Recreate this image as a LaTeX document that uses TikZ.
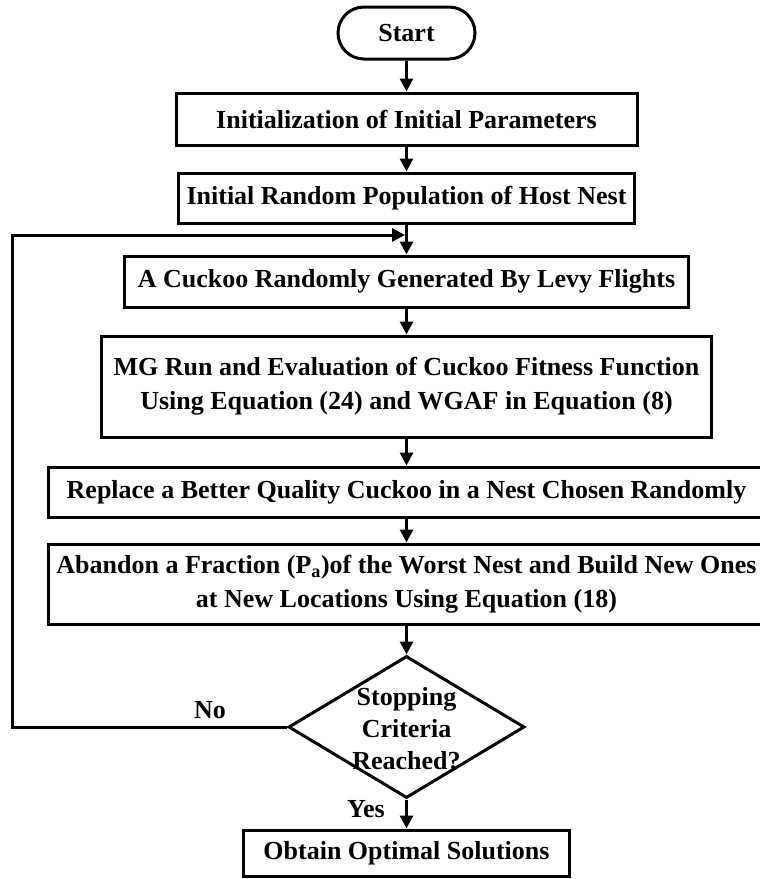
\documentclass[tikz,border=0pt]{standalone}
\usepackage{fontspec}
\setmainfont{Liberation Serif}
\usetikzlibrary{shapes.geometric,arrows.meta}
\tikzset{
  box/.style={draw, line width=3pt, rectangle, inner sep=0pt, align=center,
    font=\fontsize{26}{34}\selectfont\bfseries},
  lbl/.style={inner sep=0pt, font=\fontsize{26}{34}\selectfont\bfseries},
  conn/.style={line width=3pt, -{Triangle[length=13pt,width=13pt]}},
  plain/.style={line width=3pt}
}
\begin{document}
\begin{tikzpicture}[x=1pt,y=-1pt]
\useasboundingbox (0,0) rectangle (760,879);
\node[box, rounded corners=26pt, minimum width=137pt, minimum height=52pt] (start) at (406.5,33) {Start};
\node[box, minimum width=461pt, minimum height=52pt] (init) at (406.5,119) {Initialization of Initial Parameters};
\node[box, minimum width=456pt, minimum height=50pt] (pop) at (406.5,198) {Initial Random Population of Host Nest};
\node[box, minimum width=564pt, minimum height=51pt] (levy) at (406.5,281.5) {A Cuckoo Randomly Generated By Levy Flights};
\node[box, minimum width=610pt, minimum height=101pt] (mg) at (406.5,386.5) {MG Run and Evaluation of Cuckoo Fitness Function\\Using Equation (24) and WGAF in Equation (8)};
\node[box, minimum width=717pt, minimum height=50pt] (rep) at (406.5,492) {Replace a Better Quality Cuckoo in a Nest Chosen Randomly};
\node[box, minimum width=717pt, minimum height=80pt] (aband) at (406.5,584) {Abandon a Fraction (P\textsubscript{a})of the Worst Nest and Build New Ones\\at New Locations Using Equation (18)};
\node[draw, diamond, line width=3pt, minimum width=236pt, minimum height=142pt, inner sep=0pt] (dec) at (406.5,727) {};
\node[lbl, align=center, font=\fontsize{26}{32}\selectfont\bfseries] (dectxt) at (406.5,729) {Stopping\\Criteria\\Reached?};
\node[box, minimum width=326pt, minimum height=46pt] (opt) at (406.5,853) {Obtain Optimal Solutions};
\node[lbl] (no) at (210,710) {No};
\node[lbl] (yes) at (366,809) {Yes};
\coordinate (c1) at (12,727);
\coordinate (c2) at (12,235);
\coordinate (j) at (pop.south |- c2);
\draw[conn] (start) -- (init);
\draw[conn] (init) -- (pop);
\draw[conn] (pop.south) -- (levy.north);
\draw[conn] (levy) -- (mg);
\draw[conn] (mg) -- (rep);
\draw[conn] (rep) -- (aband);
\draw[conn] (aband) -- (dec.north);
\draw[conn] (dec.south) -- (opt.north);
\draw[plain] (dec.west) -- (c1) -- (c2);
\draw[conn, line cap=rect] (c2) -- ([xshift=-1.5pt]j);
\end{tikzpicture}
\end{document}
